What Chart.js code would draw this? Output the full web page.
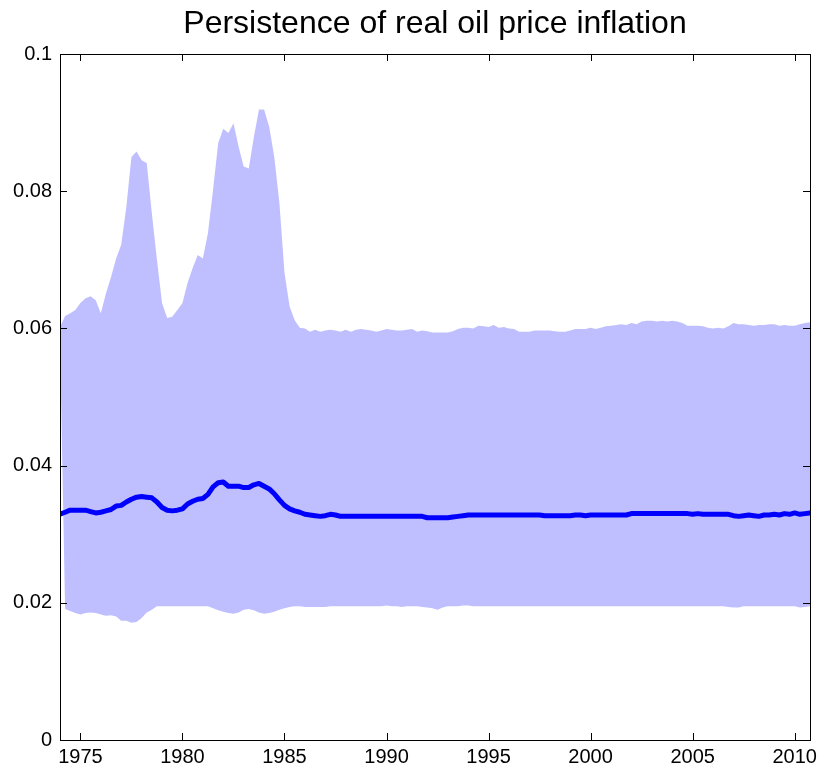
<!DOCTYPE html>
<html>
<head>
<meta charset="utf-8">
<script src="https://cdn.jsdelivr.net/npm/chart.js@4"></script>
<style>
    body { margin: 0; background: #fff; }
    #wrap { width: 824px; height: 772px; position: relative; }
</style>
</head>
<body>
<div id="wrap"><canvas id="oil"></canvas></div>
<script>
// quarterly, 1974Q1 .. 2010Q4
const upper = [
    0.0602, 0.0618, 0.0622, 0.0627, 0.0637, 0.0644, 0.0647, 0.0641, 0.0622, 0.0651,
    0.0675, 0.0702, 0.0722, 0.0777, 0.0850, 0.0858, 0.0845, 0.0841, 0.0768, 0.0700,
    0.0637, 0.0615, 0.0617, 0.0627, 0.0637, 0.0666, 0.0688, 0.0707, 0.0702, 0.0739,
    0.0802, 0.0870, 0.0891, 0.0885, 0.0899, 0.0865, 0.0836, 0.0833, 0.0879, 0.0919,
    0.0919, 0.0894, 0.0850, 0.0783, 0.0681, 0.0632, 0.0612, 0.0601, 0.0600, 0.0595,
    0.0598, 0.0595, 0.0597, 0.0598, 0.0597, 0.0595, 0.0598, 0.0595, 0.0598, 0.0599,
    0.0598, 0.0597, 0.0595, 0.0597, 0.0599, 0.0598, 0.0597, 0.0597, 0.0598, 0.0599,
    0.0595, 0.0597, 0.0596, 0.0594, 0.0594, 0.0594, 0.0594, 0.0596, 0.0599, 0.0601,
    0.0601, 0.0600, 0.0604, 0.0603, 0.0602, 0.0605, 0.0601, 0.0602, 0.0600, 0.0599,
    0.0595, 0.0595, 0.0595, 0.0597, 0.0597, 0.0597, 0.0597, 0.0596, 0.0595, 0.0595,
    0.0597, 0.0599, 0.0599, 0.0599, 0.0601, 0.0599, 0.0601, 0.0603, 0.0604, 0.0605,
    0.0606, 0.0605, 0.0608, 0.0606, 0.0610, 0.0611, 0.0611, 0.0610, 0.0611, 0.0610,
    0.0611, 0.0610, 0.0608, 0.0604, 0.0604, 0.0604, 0.0603, 0.0601, 0.0600, 0.0601,
    0.0600, 0.0603, 0.0608, 0.0606, 0.0606, 0.0605, 0.0604, 0.0605, 0.0605, 0.0606,
    0.0606, 0.0604, 0.0605, 0.0604, 0.0604, 0.0606, 0.0608, 0.0609,
];
const lower = [
    0.0580, 0.0191, 0.0188, 0.0185, 0.0183, 0.0185, 0.0186, 0.0185, 0.0183, 0.0181,
    0.0182, 0.0180, 0.0174, 0.0174, 0.0171, 0.0172, 0.0178, 0.0186, 0.0190, 0.0195,
    0.0195, 0.0195, 0.0195, 0.0195, 0.0195, 0.0195, 0.0195, 0.0195, 0.0195, 0.0195,
    0.0192, 0.0189, 0.0187, 0.0185, 0.0184, 0.0186, 0.0190, 0.0191, 0.0189, 0.0186,
    0.0184, 0.0185, 0.0187, 0.0190, 0.0192, 0.0194, 0.0195, 0.0195, 0.0194, 0.0194,
    0.0194, 0.0194, 0.0194, 0.0195, 0.0195, 0.0195, 0.0195, 0.0195, 0.0195, 0.0195,
    0.0195, 0.0195, 0.0195, 0.0195, 0.0196, 0.0195, 0.0195, 0.0194, 0.0195, 0.0195,
    0.0195, 0.0194, 0.0193, 0.0192, 0.0190, 0.0193, 0.0195, 0.0195, 0.0195, 0.0196,
    0.0196, 0.0195, 0.0195, 0.0195, 0.0195, 0.0195, 0.0195, 0.0195, 0.0195, 0.0195,
    0.0195, 0.0195, 0.0195, 0.0195, 0.0195, 0.0195, 0.0195, 0.0195, 0.0195, 0.0195,
    0.0195, 0.0195, 0.0195, 0.0195, 0.0195, 0.0195, 0.0195, 0.0195, 0.0195, 0.0195,
    0.0195, 0.0195, 0.0195, 0.0195, 0.0195, 0.0195, 0.0195, 0.0195, 0.0195, 0.0195,
    0.0195, 0.0195, 0.0195, 0.0195, 0.0195, 0.0195, 0.0195, 0.0195, 0.0195, 0.0195,
    0.0195, 0.0194, 0.0193, 0.0193, 0.0195, 0.0195, 0.0195, 0.0195, 0.0195, 0.0195,
    0.0195, 0.0195, 0.0195, 0.0195, 0.0195, 0.0193, 0.0194, 0.0195,
];
const median = [
    0.0329, 0.0332, 0.0335, 0.0335, 0.0335, 0.0335, 0.0333, 0.0331, 0.0332, 0.0334,
    0.0336, 0.0341, 0.0342, 0.0347, 0.0351, 0.0354, 0.0355, 0.0354, 0.0353, 0.0347,
    0.0339, 0.0335, 0.0334, 0.0335, 0.0337, 0.0344, 0.0348, 0.0351, 0.0352, 0.0358,
    0.0369, 0.0375, 0.0376, 0.0370, 0.0370, 0.0370, 0.0368, 0.0368, 0.0372, 0.0374,
    0.0370, 0.0366, 0.0359, 0.0350, 0.0342, 0.0337, 0.0334, 0.0332, 0.0329, 0.0328,
    0.0327, 0.0326, 0.0327, 0.0329, 0.0328, 0.0326, 0.0326, 0.0326, 0.0326, 0.0326,
    0.0326, 0.0326, 0.0326, 0.0326, 0.0326, 0.0326, 0.0326, 0.0326, 0.0326, 0.0326,
    0.0326, 0.0326, 0.0324, 0.0324, 0.0324, 0.0324, 0.0324, 0.0325, 0.0326, 0.0327,
    0.0328, 0.0328, 0.0328, 0.0328, 0.0328, 0.0328, 0.0328, 0.0328, 0.0328, 0.0328,
    0.0328, 0.0328, 0.0328, 0.0328, 0.0328, 0.0327, 0.0327, 0.0327, 0.0327, 0.0327,
    0.0327, 0.0328, 0.0328, 0.0327, 0.0328, 0.0328, 0.0328, 0.0328, 0.0328, 0.0328,
    0.0328, 0.0328, 0.0330, 0.0330, 0.0330, 0.0330, 0.0330, 0.0330, 0.0330, 0.0330,
    0.0330, 0.0330, 0.0330, 0.0330, 0.0329, 0.0330, 0.0329, 0.0329, 0.0329, 0.0329,
    0.0329, 0.0329, 0.0327, 0.0326, 0.0327, 0.0328, 0.0327, 0.0326, 0.0328, 0.0328,
    0.0329, 0.0328, 0.0330, 0.0329, 0.0331, 0.0329, 0.0330, 0.0331,
];
const startYear = 1974;
const dates = upper.map((_, i) => startYear + i / 4);
const xTicks = [1975, 1980, 1985, 1990, 1995, 2000, 2005, 2010];
const yTicks = [0, 0.02, 0.04, 0.06, 0.08, 0.1];

const pts = arr => arr.map((v, i) => ({ x: dates[i], y: v }));

// matlab style box with inward ticks
const boxTicks = {
    id: 'boxTicks',
    afterDraw(chart) {
        const { ctx, chartArea: a, scales } = chart;
        const len = 7;
        ctx.save();
        ctx.strokeStyle = '#000';
        ctx.lineWidth = 1;
        ctx.beginPath();
        xTicks.forEach(t => {
            const px = Math.round(scales.x.getPixelForValue(t)) + 0.5;
            ctx.moveTo(px, a.bottom); ctx.lineTo(px, a.bottom - len);
            ctx.moveTo(px, a.top); ctx.lineTo(px, a.top + len);
        });
        yTicks.forEach(t => {
            const py = Math.round(scales.y.getPixelForValue(t)) + 0.5;
            ctx.moveTo(a.left, py); ctx.lineTo(a.left + len, py);
            ctx.moveTo(a.right, py); ctx.lineTo(a.right - len, py);
        });
        ctx.stroke();
        ctx.strokeRect(Math.round(a.left) + 0.5, Math.round(a.top) + 0.5,
            Math.round(a.right - a.left), Math.round(a.bottom - a.top));
        ctx.restore();
    },
};

new Chart(document.querySelector('#oil'), {
    type: 'line',
    data: {
        datasets: [
            {
                label: 'median',
                data: pts(median),
                borderColor: '#0000ff',
                borderWidth: 5,
                borderJoinStyle: 'round',
                borderCapStyle: 'round',
                pointRadius: 0,
                tension: 0,
                fill: false,
            },
            {
                label: 'upper',
                data: pts(upper),
                borderColor: 'rgba(0,0,0,0)',
                borderWidth: 0,
                backgroundColor: 'rgb(191, 191, 255)',
                pointRadius: 0,
                tension: 0,
                fill: '+1',
            },
            {
                label: 'lower',
                data: pts(lower),
                borderColor: 'rgba(0,0,0,0)',
                borderWidth: 0,
                pointRadius: 0,
                tension: 0,
                fill: false,
            },
        ],
    },
    options: {
        responsive: true,
        maintainAspectRatio: false,
        animation: false,
        layout: { padding: { left: 0, right: 14, top: 0, bottom: 0 } },
        plugins: {
            legend: { display: false },
            tooltip: { enabled: false },
            title: {
                display: true,
                fullSize: false,
                text: 'Persistence of real oil price inflation',
                color: '#000',
                font: { family: 'Liberation Sans, Arial, sans-serif', size: 32, weight: 'normal', lineHeight: 1.2 },
                padding: { top: 5, bottom: 10.6 },
            },
        },
        scales: {
            x: {
                type: 'linear',
                min: 1974,
                max: 2010.75,
                grid: { display: false, drawTicks: false },
                border: { display: false },
                afterBuildTicks: s => { s.ticks = xTicks.map(v => ({ value: v })); },
                afterFit: s => { s.height = 32; },
                ticks: {
                    color: '#000',
                    padding: 5,
                    maxRotation: 0,
                    font: { family: 'Liberation Sans, Arial, sans-serif', size: 20 },
                    callback: v => String(v),
                },
            },
            y: {
                min: 0,
                max: 0.1,
                grid: { display: false, drawTicks: false },
                border: { display: false },
                afterBuildTicks: s => { s.ticks = yTicks.map(v => ({ value: v })); },
                afterFit: s => { s.width = 60; },
                ticks: {
                    color: '#000',
                    padding: 8,
                    font: { family: 'Liberation Sans, Arial, sans-serif', size: 20 },
                    callback: v => String(+v.toFixed(2)),
                },
            },
        },
    },
    plugins: [boxTicks],
});
</script>
</body>
</html>
